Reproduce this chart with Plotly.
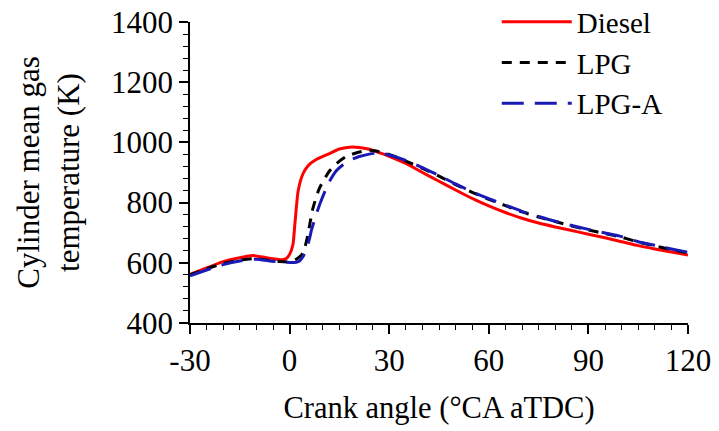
import plotly.graph_objects as go

diesel_x = [-30, -25, -20, -15, -11, -7, -4, -2, -1, 0, 1, 1.6, 2.6, 4, 5.5, 8, 12, 15, 18, 21, 24, 27, 30,
            35, 40, 45, 50, 55, 60, 65, 70, 75, 80, 85, 90, 95, 100, 105, 110, 115, 120]
diesel_y = [562, 583, 604, 617, 624, 617, 612, 610, 614, 628, 660, 730, 840, 895, 922, 943, 963, 978, 984, 983, 977, 966, 954,
            930, 900, 871, 842, 814, 789, 767, 748, 732, 719, 707, 695, 683, 670, 657, 646, 636, 626]

lpg_x = [-30, -25, -20, -15, -10, -6, -3, 0, 1, 2, 3, 4, 5, 5.6, 7, 9, 12, 15, 17, 20, 24, 27, 30,
         35, 40, 45, 50, 55, 60, 65, 70, 75, 80, 85, 90, 95, 100, 105, 110, 115, 120]
lpg_y = [560, 580, 598, 609, 614, 608, 604, 603, 606, 612, 620, 632, 668, 699, 780, 848, 905, 938, 953, 965, 974, 969, 960,
         938, 914, 888, 860, 834, 811, 790, 769, 752, 737, 722, 709, 697, 685, 669, 656, 644, 633]

lpga_x = [-30, -25, -20, -15, -10, -6, -3, 0, 2, 3, 4, 5, 6, 6.6, 8, 9.2, 11.7, 14, 16, 18, 21, 24, 26, 28, 30,
          35, 40, 45, 50, 55, 60, 65, 70, 75, 80, 85, 90, 95, 100, 105, 110, 115, 120]
lpga_y = [557, 576, 594, 606, 612, 606, 603, 601, 602, 606, 620, 643, 680, 709, 760, 798, 864, 905, 925, 940, 953, 961, 964, 963, 958,
          940, 916, 890, 862, 836, 813, 792, 771, 754, 738, 724, 711, 699, 687, 670, 658, 646, 635]

x_ticks = [-30, 0, 30, 60, 90, 120]
y_ticks = [400, 600, 800, 1000, 1200, 1400]

FONT = "Liberation Serif"
fig = go.Figure()
fig.add_trace(go.Scatter(x=diesel_x, y=diesel_y, mode="lines", name="Diesel",
                         line=dict(color="#ff0000", width=3, shape="spline", smoothing=0.6)))
fig.add_trace(go.Scatter(x=lpg_x, y=lpg_y, mode="lines", name="LPG",
                         line=dict(color="#000000", width=3, dash="10px,8px", shape="spline", smoothing=0.6)))
fig.add_trace(go.Scatter(x=lpga_x, y=lpga_y, mode="lines", name="LPG-A",
                         line=dict(color="#1a1ab4", width=3, dash="22px,11px", shape="spline", smoothing=0.6)))

fig.update_layout(
    width=719, height=431,
    margin=dict(l=190, r=31, t=22, b=108, autoexpand=False),
    plot_bgcolor="white", paper_bgcolor="white",
    font=dict(family=FONT, size=31, color="black"),
    showlegend=True,
    legend=dict(x=0.616, y=1.085, xanchor="left", yanchor="top", bgcolor="rgba(0,0,0,0)",
                font=dict(size=29), tracegroupgap=0, itemwidth=70),
)
fig.update_xaxes(range=[-30, 120], tickmode="array", tickvals=x_ticks, ticktext=[str(v) for v in x_ticks],
                 showline=True, linecolor="black", linewidth=1.5, ticks="outside", ticklen=9, tickwidth=1.5,
                 tickcolor="black", showgrid=False, zeroline=False, tickfont=dict(size=31),
                 minor=dict(dtick=5, ticks="outside", ticklen=5, tickwidth=1.2, tickcolor="black", showgrid=False),
                 title=dict(text="Crank angle (°CA aTDC)", font=dict(size=30.5), standoff=20))
fig.update_yaxes(range=[400, 1400], tickmode="array", tickvals=y_ticks, ticktext=[str(v) for v in y_ticks],
                 showline=True, linecolor="black", linewidth=1.5, ticks="outside", ticklen=9, tickwidth=1.5,
                 tickcolor="black", showgrid=False, zeroline=False, tickfont=dict(size=31),
                 minor=dict(dtick=40, ticks="outside", ticklen=5, tickwidth=1.2, tickcolor="black", showgrid=False),
                 title=dict(text="Cylinder mean gas<br>temperature (K)", font=dict(size=31), standoff=22))

fig.write_html("out.html")
